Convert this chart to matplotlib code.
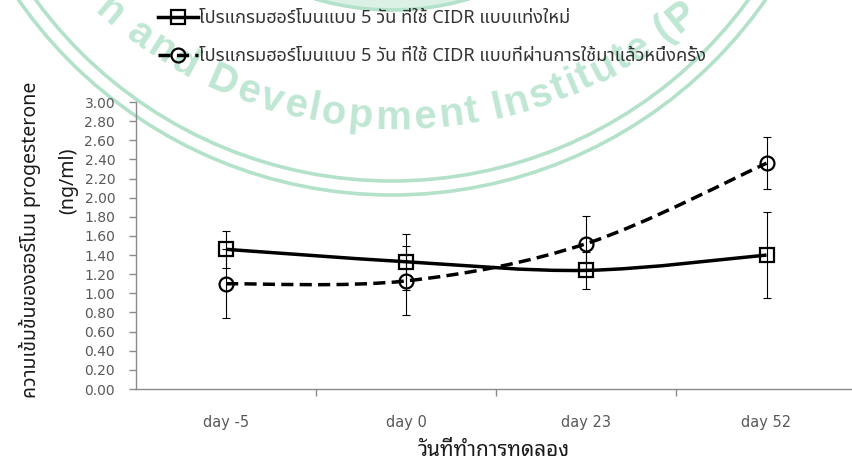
import numpy as np
import matplotlib
matplotlib.use('Agg')
import matplotlib.pyplot as plt
from matplotlib.path import Path
from matplotlib.patches import PathPatch, Circle
from matplotlib.lines import Line2D
from matplotlib import font_manager as fm
from matplotlib.font_manager import FontProperties
from matplotlib.ft2font import FT2Font, LOAD_NO_HINTING

# ---------------- data ----------------
categories = ['day -5', 'day 0', 'day 23', 'day 52']
new_cidr_mean = [1.46, 1.33, 1.24, 1.40]
new_cidr_se = [0.19, 0.29, 0.19, 0.45]
used_cidr_mean = [1.10, 1.13, 1.52, 2.36]
used_cidr_se = [0.36, 0.36, 0.29, 0.27]
y_ticks = [0.00, 0.20, 0.40, 0.60, 0.80, 1.00, 1.20, 1.40, 1.60, 1.80,
           2.00, 2.20, 2.40, 2.60, 2.80, 3.00]
label_new = 'โปรแกรมฮอร์โมนแบบ 5 วัน ที่ใช้ CIDR แบบแท่งใหม่'
label_used = 'โปรแกรมฮอร์โมนแบบ 5 วัน ที่ใช้ CIDR แบบที่ผ่านการใช้มาแล้วหนึ่งครั้ง'
ylabel_1 = 'ความเข้มข้นของฮอร์โมน progesterone'
ylabel_2 = '(ng/ml)'
xlabel = 'วันที่ทำการทดลอง'
watermark_text = 'Research and Development Institute (Public Organization)'

W, H = 853, 469
fig = plt.figure(figsize=(W / 100, H / 100), dpi=100)
fig.patch.set_facecolor('white')

# ---------------- watermark (stamp) ----------------
wax = fig.add_axes([0, 0, 1, 1], zorder=-5)
wax.set_xlim(0, W)
wax.set_ylim(H, 0)
wax.axis('off')
green_line = '#b3e1c9'
green_text = '#c0e7d3'
cx, cy = 392, -260
wax.add_patch(Circle((cx, cy), 441, fill=False, ec=green_line, lw=2.6))
wax.add_patch(Circle((cx, cy), 455, fill=False, ec=green_line, lw=2.6))
wax.add_patch(Circle((cx, cy), 270, fc='#dcf1e6', ec=green_line, lw=2.6))

# text ring of the stamp (slightly skewed in the scan)
tcx, tcy = 399, -327
wm_fs = 29
wm_prop = FontProperties(family='Liberation Sans', weight='bold', size=wm_fs)
ft = FT2Font(fm.findfont(wm_prop))
ft.set_size(wm_fs, 100)
adv = []
for ch in watermark_text:
    g = ft.load_char(ord(ch), flags=LOAD_NO_HINTING)
    adv.append(g.linearHoriAdvance / 65536.0)
adv = np.array(adv) * 1.10
centers = np.cumsum(adv) - adv / 2
r_mid = 445
r_base = 456
iD = watermark_text.index('D')
theta_D = np.deg2rad(-23.4)
for i, ch in enumerate(watermark_text):
    if ch == ' ':
        continue
    th = theta_D + (centers[i] - centers[iD]) / r_mid
    xm = tcx + r_mid * np.sin(th)
    ym = tcy + r_mid * np.cos(th)
    if not (4 < xm < W - 4 and 4 < ym < H - 4):
        continue
    x = tcx + r_base * np.sin(th)
    y = tcy + r_base * np.cos(th)
    wax.text(x, y, ch, rotation=np.rad2deg(th), rotation_mode='anchor',
             ha='center', va='baseline', color=green_text,
             fontproperties=wm_prop, clip_on=True)

# ---------------- main axes ----------------
ax = fig.add_axes([136 / W, 80 / H, (W - 136) / W, (389 - 102) / H])
ax.patch.set_visible(False)
x = np.arange(len(categories))
ax.set_xlim(-0.5, 3.48)
ax.set_ylim(0, 3.0)

axis_gray = '#8a8a8a'
tick_gray = '#595959'
for s in ['top', 'right']:
    ax.spines[s].set_visible(False)
for s in ['left', 'bottom']:
    ax.spines[s].set_color(axis_gray)
    ax.spines[s].set_linewidth(1.0)

ax.set_yticks(y_ticks)
ax.set_yticklabels([f'{v:.2f}' for v in y_ticks])
ax.set_xticks(x)
ax.set_xticklabels(categories)
ax.set_xticks(x[:-1] + 0.5, minor=True)
ax.tick_params(axis='x', which='major', length=0, pad=19, labelsize=10.5,
               labelcolor=tick_gray)
ax.tick_params(axis='x', which='minor', length=5, width=1, color=axis_gray,
               direction='out')
ax.tick_params(axis='y', length=5, width=1, color=axis_gray, pad=10,
               labelsize=10, labelcolor=tick_gray)


def smooth_path(xs, ys):
    xs = np.asarray(xs, float)
    ys = np.asarray(ys, float)
    pts = np.column_stack([xs, ys])
    n = len(pts)
    verts = [pts[0]]
    codes = [Path.MOVETO]
    for i in range(n - 1):
        p0 = pts[max(i - 1, 0)]
        p1 = pts[i]
        p2 = pts[i + 1]
        p3 = pts[min(i + 2, n - 1)]
        c1 = p1 + (p2 - p0) / 6.0
        c2 = p2 - (p3 - p1) / 6.0
        verts += [c1, c2, p2]
        codes += [Path.CURVE4] * 3
    return Path(verts, codes)


lw = 2.5
dash = (0, (3.5, 1.8))
ax.add_patch(PathPatch(smooth_path(x, new_cidr_mean), fill=False, ec='black',
                       lw=lw, zorder=3, capstyle='butt'))
ax.add_patch(PathPatch(smooth_path(x, used_cidr_mean), fill=False, ec='black',
                       lw=lw, ls=dash, zorder=3, capstyle='butt'))

ax.errorbar(x, new_cidr_mean, yerr=new_cidr_se, fmt='none', ecolor='black',
            elinewidth=0.8, capsize=3, capthick=0.8, zorder=4)
ax.errorbar(x, used_cidr_mean, yerr=used_cidr_se, fmt='none', ecolor='black',
            elinewidth=0.8, capsize=3, capthick=0.8, zorder=4)
ax.plot(x, new_cidr_mean, ls='none', marker='s', ms=10, mfc='none',
        mec='black', mew=1.6, zorder=5)
ax.plot(x, used_cidr_mean, ls='none', marker='o', ms=10, mfc='none',
        mec='black', mew=1.6, zorder=5)

# ---------------- legend ----------------
h_new = Line2D([], [], color='black', lw=lw, marker='s', ms=10, mfc='none',
               mec='black', mew=1.6)
h_used = Line2D([], [], color='black', lw=lw, ls=dash, marker='o', ms=10,
                mfc='none', mec='black', mew=1.6)
thai = ['Noto Sans Thai', 'DejaVu Sans']
fig.legend([h_new, h_used], [label_new, label_used], loc='upper left',
           bbox_to_anchor=(158 / W, 1 - 9 / H), frameon=False, borderpad=0,
           borderaxespad=0, handlelength=2.2, handletextpad=0.08,
           labelspacing=1.12, prop=FontProperties(family=thai, size=13.1),
           labelcolor='#333333')

# ---------------- axis titles ----------------
fig.text(30 / W, 1 - 240 / H, ylabel_1, rotation=90, ha='center', va='center',
         fontsize=14, fontweight='bold', family=thai, color='#1a1a1a')
fig.text(68 / W, 1 - 181 / H, ylabel_2, rotation=90, ha='center', va='center',
         fontsize=14, fontweight='bold', family=thai, color='#1a1a1a')
fig.text(494 / W, 1 - 450 / H, xlabel, ha='center', va='center',
         fontsize=15, fontweight='bold',
         family=['Noto Sans Thai Looped', 'DejaVu Sans'], color='#1a1a1a')

fig.savefig('out.png', dpi=100)
